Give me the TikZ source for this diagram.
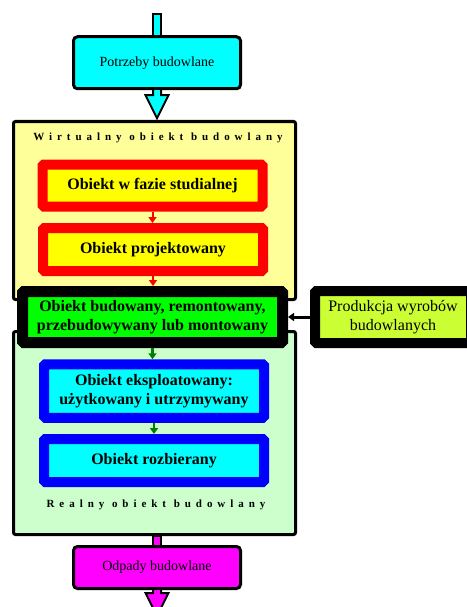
\documentclass[tikz,border=0pt]{standalone}
\usepackage{fontspec}
\setmainfont{Liberation Serif}
\newfontfamily\spacedfont[LetterSpace=45]{Liberation Serif}
\usetikzlibrary{positioning, arrows.meta, calc}

\definecolor{virtualfill}{HTML}{FFFF99}
\definecolor{realfill}{HTML}{CCFFCC}
\definecolor{prodfill}{HTML}{CCFF33}
\definecolor{flowgreen}{HTML}{008000}
\definecolor{aqua}{HTML}{00FFFF}
\definecolor{fuchsia}{HTML}{FF00FF}
\definecolor{lemon}{HTML}{FFFF00}
\definecolor{lime}{HTML}{00FF00}
\definecolor{pureblue}{HTML}{0000FF}
\definecolor{purered}{HTML}{FF0000}

\tikzset{
  zone/.style = {draw, line width=3pt, rounded corners=2pt},
  zonetitle/.style = {font=\spacedfont\bfseries\fontsize{11}{13}\selectfont},
  endbox/.style = {draw, line width=3pt, rounded corners=4pt, minimum width=167pt,
                   minimum height=52pt, font=\fontsize{14}{16}\selectfont},
  stagebox/.style = {line width=10pt, rounded corners=1.5pt, minimum width=220pt,
                     align=center, font=\bfseries\fontsize{16}{19}\selectfont},
  feed/.style = {draw, line width=2pt},
  flow/.style = {-{Triangle[length=6pt, width=8pt]}, line width=2pt}
}

\begin{document}
\begin{tikzpicture}[x=1pt, y=-1pt]
  \useasboundingbox (0,0) rectangle (466,607);

  % Zones
  \draw[zone, fill=virtualfill] (13.5,121.5) rectangle (295.5,299.5);
  \draw[zone, fill=realfill] (13.5,331.5) rectangle (295.5,534.5);
  \node[zonetitle] (virtual) at (158,138) {Wirtualny obiekt budowlany};
  \node[zonetitle] (real) at (156,505) {Realny obiekt budowlany};

  % Input and output
  \node[endbox, fill=aqua] (needs) at (157,62.75) {Potrzeby budowlane};
  \node[endbox, fill=fuchsia, minimum height=42pt] (waste) at (157,567.5) {Odpady budowlane};

  % Stages
  \node[stagebox, draw=purered, fill=lemon, minimum height=42pt] (study) at (152.5,185.5)
    {Obiekt w fazie studialnej};
  \node[stagebox, draw=purered, fill=lemon, minimum height=43pt] (design) at (153,249.5)
    {Obiekt projektowany};
  \node[stagebox, draw=black, fill=lime, line width=11pt, minimum width=260pt,
        minimum height=51pt] (build) at (152.5,317)
    {Obiekt budowany, remontowany,\\ przebudowywany lub montowany};
  \node[stagebox, draw=black, fill=prodfill, minimum width=156pt, minimum height=52pt,
        font=\fontsize{16}{19}\selectfont] (supply) at (393,317)
    {Produkcja wyrobów\\ budowlanych};
  \node[stagebox, draw=pureblue, fill=aqua, minimum height=53.5pt] (use) at (154,391)
    {Obiekt eksploatowany:\\ użytkowany i utrzymywany};
  \node[stagebox, draw=pureblue, fill=aqua, minimum height=43pt] (demolish) at (154,460.5)
    {Obiekt rozbierany};

  % Flows
  \draw[flow, purered] (study.south) -- (study.south |- design.north);
  \draw[flow, purered] (design.south) -- (design.south |- build.north);
  \draw[flow, flowgreen, line width=2.5pt] (build.south) -- (build.south |- use.north);
  \draw[flow, flowgreen, line width=2.5pt] (use.south) -- (use.south |- demolish.north);
  \draw[flow, line width=3pt] (supply.west) -- (build.east);

  % Block arrows
  \draw[feed, fill=aqua] ($(needs.north)+(-4,0)$) -- ++(0,-21) -- ++(8,0) -- ++(0,21);
  \draw[feed, fill=aqua] ($(needs.south)+(-4,0)$) -- ++(0,5) -- ++(-7.5,0)
    -- ++(11.5,23) -- ++(11.5,-23) -- ++(-7.5,0) -- ++(0,-5);
  \draw[feed, fill=fuchsia] ($(waste.north)+(-4,0)$) -- ++(0,-9) -- ++(8,0) -- ++(0,9);
  \draw[feed, fill=fuchsia] ($(waste.south)+(-4,0)$) -- ++(0,3) -- ++(-7.5,0)
    -- ++(11.5,23) -- ++(11.5,-23) -- ++(-7.5,0) -- ++(0,-3);
\end{tikzpicture}
\end{document}
